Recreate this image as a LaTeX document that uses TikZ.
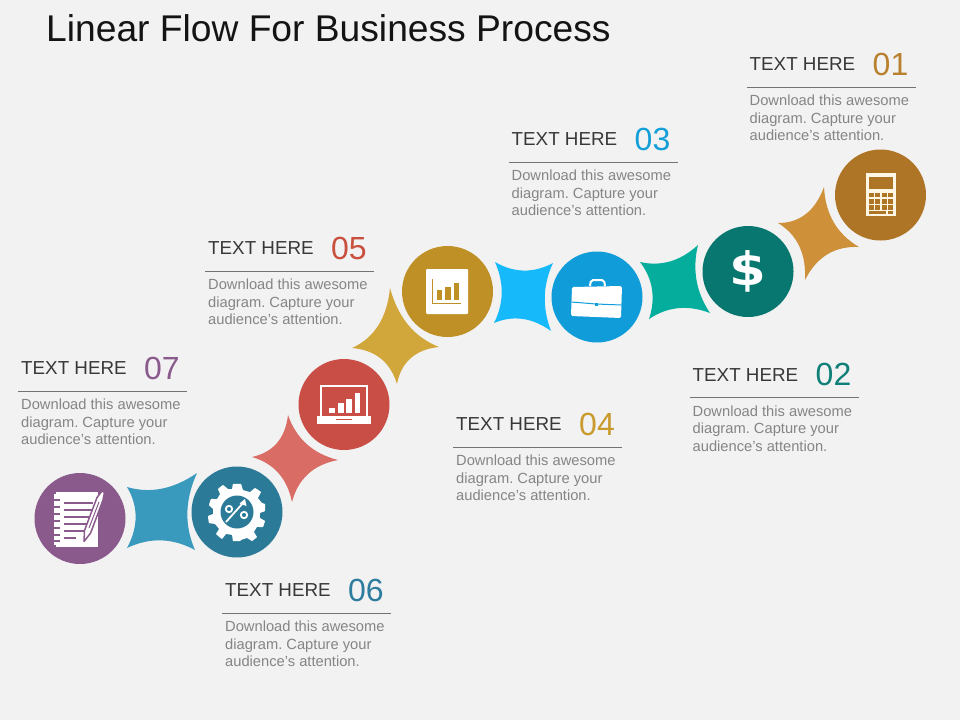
\documentclass[tikz,border=0pt]{standalone}
\usepackage{fontspec}
\setmainfont{Liberation Sans}
\newfontfamily\dollarfont{DejaVu Sans}
\usetikzlibrary{calc}
\definecolor{bg}{HTML}{F2F2F2}
\definecolor{cA}{HTML}{AE7526}\definecolor{sA}{HTML}{CE9038}\definecolor{nA}{HTML}{B9812F}
\definecolor{cB}{HTML}{08776F}\definecolor{sB}{HTML}{05AE9C}\definecolor{nB}{HTML}{0F7F78}
\definecolor{cC}{HTML}{0F9CD8}\definecolor{sC}{HTML}{16B9F9}\definecolor{nC}{HTML}{149FD9}
\definecolor{cD}{HTML}{BF9025}\definecolor{sD}{HTML}{D1A63A}\definecolor{nD}{HTML}{C99B2F}
\definecolor{cE}{HTML}{C94F46}\definecolor{sE}{HTML}{D96C64}\definecolor{nE}{HTML}{C9503F}
\definecolor{cF}{HTML}{2A7A98}\definecolor{sF}{HTML}{3A9ABD}\definecolor{nF}{HTML}{2E7C9E}
\definecolor{cG}{HTML}{8A5A8C}\definecolor{nG}{HTML}{8A5A8C}
\definecolor{cream}{HTML}{FFF7E3}
\tikzset{
  disc/.style={circle,minimum size=91pt,inner sep=0pt,fill=#1},
  head/.style={anchor=base west,inner sep=0pt,text=black!78,font=\fontsize{18.8}{20}\selectfont},
  numb/.style={anchor=base west,inner sep=0pt,font=\fontsize{32}{34}\selectfont},
  body/.style={anchor=north west,inner sep=0pt,align=left,text=black!48,font=\fontsize{14.7}{17.6}\selectfont\frenchspacing},
  rule/.style={draw=black!55,line width=.8pt},
}
% one concave side, an arc-like curve bowed towards the centre (po)
\newcommand{\sidecurve}[3]{.. controls ($(#1)!.667!($(#1)!.5!(#2)!#3!(po)$)$) and ($(#2)!.667!($(#1)!.5!(#2)!#3!(po)$)$) .. (#2)}
% star: four tips in order round the shape; the last argument sets how far the sides bow
\newcommand{\starblob}[6]{%
  \coordinate (pa) at #2; \coordinate (pb) at #3; \coordinate (pc) at #4; \coordinate (pd) at #5;
  \coordinate (po) at ($.25*(pa)+.25*(pb)+.25*(pc)+.25*(pd)$);
  \fill[#1] (pa) \sidecurve{pa}{pb}{#6} \sidecurve{pb}{pc}{#6} \sidecurve{pc}{pd}{#6} \sidecurve{pd}{pa}{#6} -- cycle;
}
\newcommand{\infoblock}[5]{% id, x, rule y, number, colour
  \coordinate (r#1) at (#2,#3);
  \node[head] (t#1) at ($(r#1)+(3,-16.5)$) {TEXT HERE};
  \node[numb] (n#1) at ($(r#1)+(126,-12)$) [text=#5] {#4};
  \draw[rule] (r#1) -- ++(169,0);
  \node[body] (b#1) at ($(r#1)+(3,7.8)$) {Download this awesome\\diagram. Capture your\\audience’s attention.};
}
\begin{document}
\begin{tikzpicture}[x=1pt,y=-1pt]
\useasboundingbox (0,0) rectangle (960,720);
\fill[bg] (0,0) rectangle (960,720);
\node[anchor=base west,inner sep=0pt,text=black!92,font=\fontsize{37.2}{40}\selectfont] (title) at (46,41) {Linear Flow For Business Process};

% stars
\starblob{sF}{(127,487)}{(197,473)}{(195,550)}{(127,548)}{.5}
\starblob{sE}{(288,415)}{(338,460)}{(292,502)}{(252,457)}{.62}
\starblob{sD}{(390,288)}{(439,347)}{(397,384)}{(352,348)}{.62}
\starblob{sC}{(495,262)}{(553,263)}{(551,331)}{(494,323)}{.5}
\starblob{sB}{(640,262)}{(698,245)}{(710,313)}{(649,319)}{.5}
\starblob{sA}{(824,187)}{(859,247)}{(805,280)}{(778,223)}{.62}

% discs
\node[disc=cG] (d7) at (80,518.5) {};
\node[disc=cF] (d6) at (237,512) {};
\node[disc=cE] (d5) at (344,404.5) {};
\node[disc=cD] (d4) at (447.5,291.5) {};
\node[disc=cC] (d3) at (597,297) {};
\node[disc=cB] (d2) at (748,271.5) {};
\node[disc=cA] (d1) at (880.5,195) {};

% text blocks
\infoblock{1}{746.5}{87}{01}{nA}
\infoblock{2}{689.5}{397.5}{02}{nB}
\infoblock{3}{508.5}{162}{03}{nC}
\infoblock{4}{453}{447}{04}{nD}
\infoblock{5}{205}{271}{05}{nE}
\infoblock{6}{222}{613}{06}{nF}
\infoblock{7}{18}{391}{07}{nG}

% icon 7: notepad and pen
\fill[white] (56,491.5) rectangle (98,547);
\fill[white] (54,494) rectangle (58,545);
\foreach \yy in {498.5,506,513,520,527,534,540}{\fill[cG] (54,\yy) rectangle (60,\yy+2);}
\foreach \yy/\xe in {501.5/93,508.5/93,515.5/91,522.5/90,529.5/87}{\fill[cG] (64,\yy) rectangle (\xe,\yy+2.1);}
\fill[cG] (64,536.5) rectangle (76,538.6);
\fill[white,draw=cG,line width=1.5pt,line join=round] (102,491) -- (104.5,492.5) -- (103,500) -- (90.6,533) -- (84,541.5) -- (84.5,530.5) -- (97,497.5) -- cycle;
\draw[cG,line width=1pt] (99,502) -- (89,528);

% icon 6: gear with percent sign
\fill[white] plot[smooth cycle,tension=.12] coordinates {
 (233,484) (241,484) (243,490) (250,492) (255,488) (261,492) (258,498) (262,503)
 (265,504) (265,511) (260,513) (260,518) (265,521) (263,527) (257,527) (254,532)
 (257,537) (252,541) (247,538) (241,540) (240,541) (233,541) (232,535) (226,534)
 (222,539) (216,534) (219,529) (215,524) (209,523) (208,516) (213,514) (213,509)
 (209,505) (211,499) (217,499) (220,494) (218,489) (223,485) (228,489) (232,489)};
\node[circle,fill=cF,minimum size=33pt,inner sep=0pt] (g6) at (237,512) {};
\draw[white,line width=1.8pt] (226,522) -- (243,503);
\fill[white] (245,499) -- (246.5,506) -- (239.5,503.5) -- cycle;
\draw[white,line width=1.8pt] (229,509) circle[radius=3.2];
\draw[white,line width=1.8pt] (244,515) circle[radius=3.2];

% icon 5: laptop
\draw[white,line width=2pt] (321,386) rectangle (367,417);
\fill[white] (317,416) rectangle (371,424);
\fill[cE] (336,419) rectangle (352,420);
\fill[white] (328.5,408) rectangle (335,413);
\fill[white] (337.5,403) rectangle (343.5,413);
\fill[white] (345.5,398.5) rectangle (352,413);
\fill[white] (354.5,393) rectangle (360,413);

% icon 4: chart card
\fill[white,rounded corners=1pt] (426,269) rectangle (468,314);
\draw[cD,line width=1pt] (432.5,279) -- (432.5,303) -- (461,303);
\fill[cD] (436.5,290) rectangle (442,300);
\fill[cD] (445,286.5) rectangle (450.5,300);
\fill[cD] (453.5,283) rectangle (459,300);

% icon 3: briefcase
\draw[white,line width=2pt,rounded corners=2pt] (590,286) -- (591,280) -- (604,280) -- (605,286);
\fill[white,rounded corners=1.5pt] (572,287) -- (622,286) -- (621,318) -- (571,316) -- cycle;
\draw[cC,line width=1pt] (571.5,302) -- (596,304) -- (621.5,305);
\fill[cC] (595,303) rectangle (598,306);

% icon 2: dollar
\node[inner sep=0pt,text=white,font=\fontsize{46}{46}\selectfont\dollarfont\bfseries] (dollar) at (748,271.5) {\scalebox{1.15}[1]{\$}};

% icon 1: calculator
\fill[cream] (866,173) rectangle (896,216);
\fill[cA] (869,176.5) rectangle (893,189);
\foreach \yy in {192.5,199,205}{\foreach \xx in {868.5,875,881.5,888}{\fill[cA] (\xx,\yy) rectangle (\xx+5,\yy+4.5);}}
\fill[cA] (868.5,211) rectangle (886,214);
\fill[cA] (888,211) rectangle (893,214);
\end{tikzpicture}
\end{document}
